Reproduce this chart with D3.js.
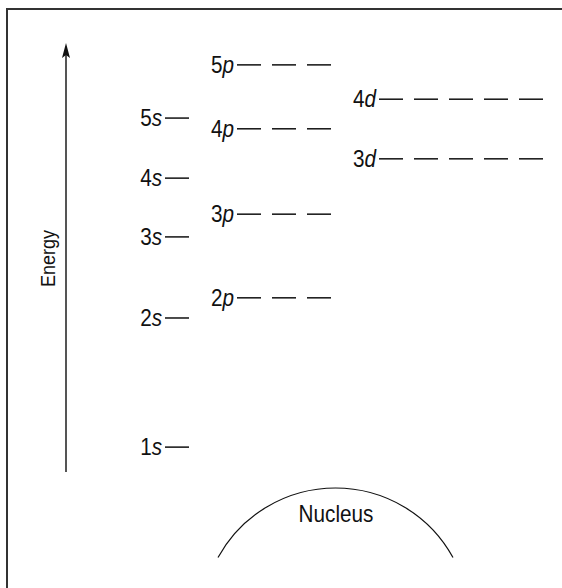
<!DOCTYPE html>
<html>
<head>
<meta charset="utf-8">
<script src="https://cdn.jsdelivr.net/npm/d3@7"></script>
<style>
  body { margin: 0; background: #fff; }
  text { font-family: "Liberation Sans", Arial, sans-serif; fill: #111; }
</style>
</head>
<body>
<div class="wrapper"></div>
<script>
// orbital levels, energy on a 0-100 relative scale
const orbitals = ['1s', '2s', '3s', '4s', '5s', '2p', '3p', '4p', '5p', '3d', '4d'];
const energies = [5.8, 35.9, 54.8, 68.5, 82.5, 40.6, 60.1, 80.0, 94.9, 73.0, 86.9];
const subshells = ['s', 'p', 'd'];
const slotCount = [1, 3, 5];

let width = 562;
let height = 588;
const squeeze = 0.9; // condensed look for the labels

let svg = d3.select('.wrapper').append('svg')
.attr('width', width)
.attr('height', height)

// frame (top + left only)
svg.append('path')
.attr('d', `M7,${height} L7,9 L${width},9`)
.attr('fill', 'none')
.attr('stroke', '#333')
.attr('stroke-width', 2)

let y = d3.scaleLinear()
.domain([0, 100])
.range([472, 43])

let colStart = d3.scaleOrdinal()
.domain(subshells)
.range([165, 237, 379])

let slot = d3.scaleLinear()
.domain([0, 1])
.range([0, 35])

const dashW = 24;

// energy arrow
svg.append('line')
.attr('x1', 66).attr('x2', 66)
.attr('y1', y(0)).attr('y2', y(100) + 12)
.attr('stroke', '#555')
.attr('stroke-width', 2)

svg.append('path')
.attr('d', `M66,${y(100)} L70,${y(100) + 15} L66,${y(100) + 12} L62,${y(100) + 15} Z`)
.attr('fill', '#111')

svg.append('text')
.attr('transform', `translate(55,${(y(0) + y(100)) / 2 + 1}) rotate(-90) scale(${squeeze},1)`)
.attr('text-anchor', 'middle')
.attr('font-size', 20)
.text('Energy')

let levels = orbitals.map((o, i) => ({ n: o[0], l: o[1], e: energies[i] }));

let g = svg.append('g')
.selectAll('.level')
.data(levels)
.enter()
.append('g')
.attr('class', 'level')

g.each(function(d) {
	let el = d3.select(this);
	let x0 = colStart(d.l);
	let count = slotCount[subshells.indexOf(d.l)];
	d3.range(count).forEach(k => {
		el.append('line')
		.attr('x1', x0 + slot(k)).attr('x2', x0 + slot(k) + dashW)
		.attr('y1', y(d.e)).attr('y2', y(d.e))
		.attr('stroke', '#111')
		.attr('stroke-width', 1.5)
	})
	let t = el.append('text')
	.attr('transform', `translate(${x0 - 3},${y(d.e) + 8}) scale(${squeeze},1)`)
	.attr('text-anchor', 'end')
	.attr('font-size', 23)
	t.append('tspan').text(d.n)
	t.append('tspan').attr('font-style', 'italic').text(d.l)
})

// nucleus
const cx = 335.5, cy = 622, r = 134;
const half = Math.asin(117.5 / r);
let p = d3.path();
p.arc(cx, cy, r, -Math.PI / 2 - half, -Math.PI / 2 + half);
svg.append('path')
.attr('d', p.toString())
.attr('fill', 'none')
.attr('stroke', '#111')
.attr('stroke-width', 1.2)

svg.append('text')
.attr('transform', `translate(336,522) scale(${squeeze},1)`)
.attr('text-anchor', 'middle')
.attr('font-size', 23)
.text('Nucleus')
</script>
</body>
</html>
